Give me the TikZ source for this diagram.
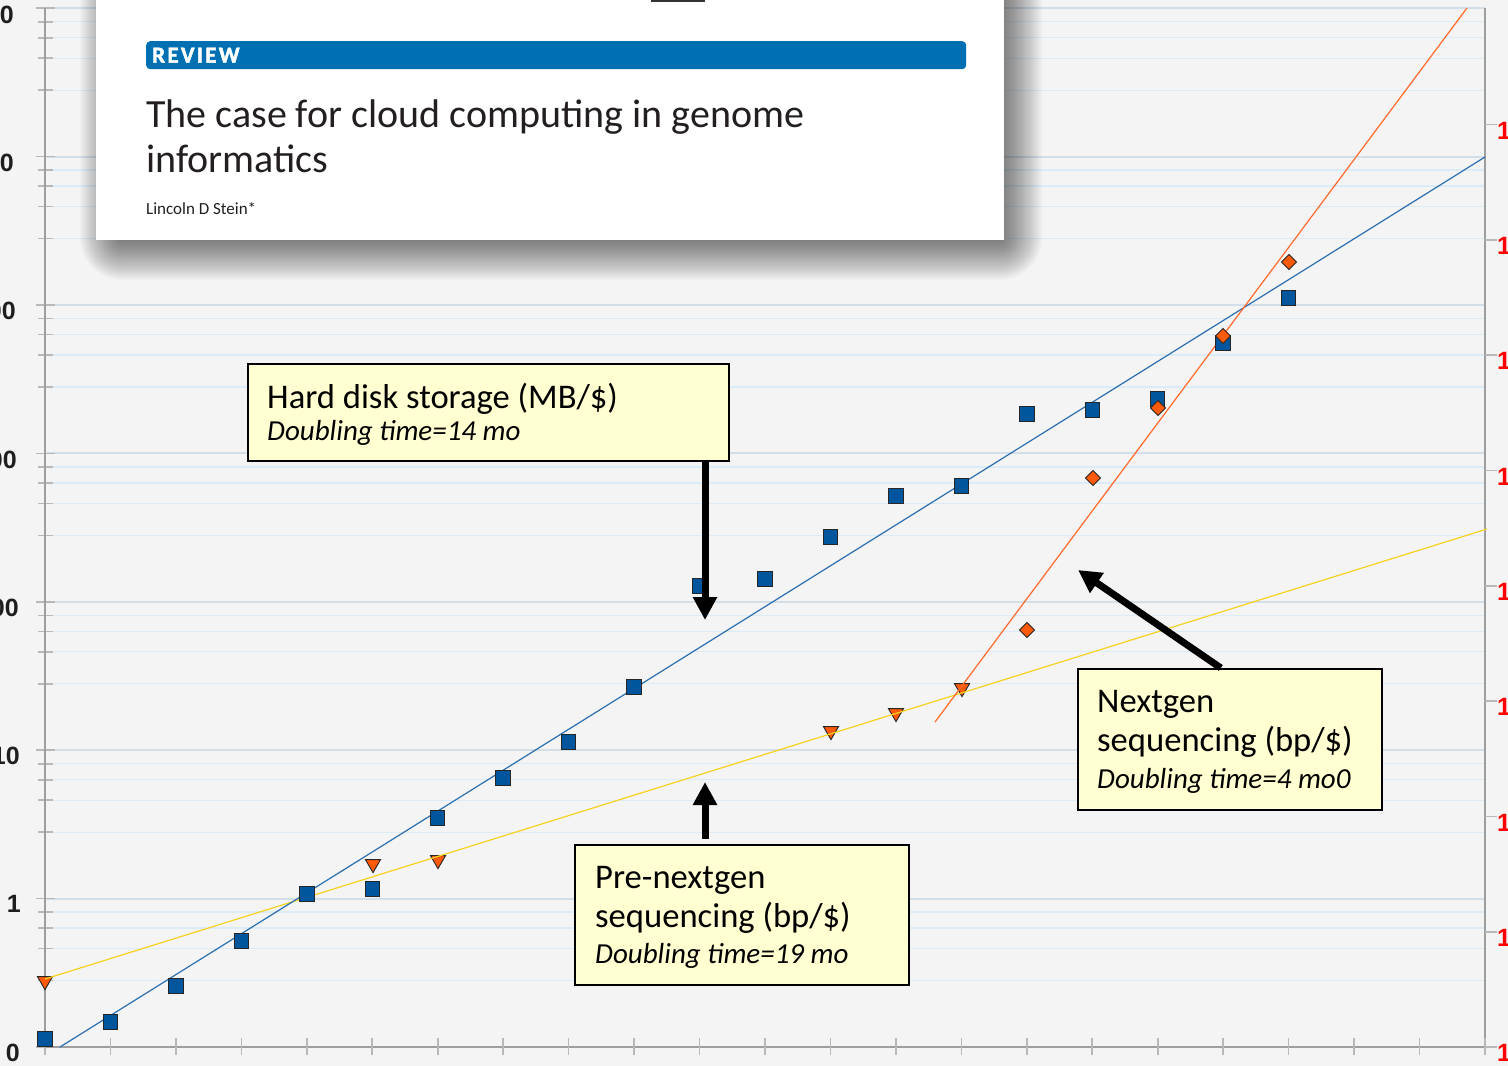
\documentclass[tikz,border=0pt]{standalone}
\usepackage{fontspec}
\setmainfont{Carlito}
\newfontfamily\labelfont{Liberation Sans}
\newfontfamily\reviewfont[LetterSpace=10, BoldFeatures={FakeBold=2}]{Carlito}
\usetikzlibrary{arrows.meta,shapes.geometric,calc}

\definecolor{bgc}{HTML}{F4F4F4}
\definecolor{gridminorc}{HTML}{DAECF8}
\definecolor{gridmajorc}{HTML}{D2DEE8}
\definecolor{axisc}{HTML}{9E9E9E}
\definecolor{tickc}{HTML}{B8B8B8}
\definecolor{labelc}{HTML}{1E1E1E}
\definecolor{diskblue}{HTML}{00569C}
\definecolor{disklinec}{HTML}{2A6FB0}
\definecolor{ngorange}{HTML}{FF5A0A}
\definecolor{nglinec}{HTML}{FF6A2A}
\definecolor{prelinec}{HTML}{F6D21E}
\definecolor{notefill}{HTML}{FFFFD2}
\definecolor{reviewblue}{HTML}{0070B2}
\definecolor{titleink}{HTML}{231F20}
\definecolor{tabc}{HTML}{333333}

\tikzset{
  gridminor/.style={draw=gridminorc, line width=1.3pt},
  gridmajor/.style={draw=gridmajorc, line width=2pt},
  axisline/.style={draw=axisc, line width=2.2pt},
  tickline/.style={draw=tickc, line width=1.6pt},
  leftlab/.style={anchor=east, inner sep=0pt, text=labelc,
    font=\labelfont\bfseries\fontsize{25}{25}\selectfont},
  rightlab/.style={anchor=west, inner sep=0pt, text=red,
    font=\labelfont\bfseries\fontsize{25}{25}\selectfont},
  trend/.style={line width=1.2pt},
  diskmark/.style={rectangle, minimum size=14.5pt, inner sep=0pt,
    fill=diskblue, draw=black!85, line width=1pt},
  premark/.style={regular polygon, regular polygon sides=3,
    shape border rotate=180, minimum size=17.3pt, inner sep=0pt,
    fill=ngorange, draw=black!85, line width=0.9pt},
  ngmark/.style={diamond, minimum width=15.5pt, minimum height=15.5pt,
    inner sep=0pt, fill=ngorange, draw=black!85, line width=0.9pt},
  card/.style={anchor=north west, fill=white, inner sep=0pt,
    minimum width=908pt, minimum height=260pt},
  shadowlayer/.style={fill=black, opacity=0.02},
  reviewbar/.style={anchor=north west, fill=reviewblue, rounded corners=4pt,
    minimum height=28pt, text width=808pt, inner xsep=6pt, inner ysep=0pt,
    align=left, text=white, font=\reviewfont\bfseries\fontsize{23}{23}\selectfont},
  titletext/.style={anchor=base west, inner sep=0pt, text=titleink,
    font=\fontsize{40}{40}\selectfont},
  authortext/.style={anchor=base west, inner sep=0pt, text=titleink,
    font=\fontsize{17}{17}\selectfont},
  notebox/.style={draw=black, line width=2pt, fill=notefill,
    anchor=north west, inner sep=0pt},
  notemain/.style={anchor=base west, inner sep=0pt,
    font=\fontsize{34.6}{34.6}\selectfont},
  noteital/.style={anchor=base west, inner sep=0pt,
    font=\itshape\fontsize{29}{29}\selectfont},
  bigarrow/.style={line width=7pt, draw=black,
    -{Triangle[width=23pt,length=23pt]}},
}

\begin{document}
\begin{tikzpicture}[x=1pt,y=-1pt]
\useasboundingbox (0,0) rectangle (1508,1066);
\fill[bgc] (0,0) rectangle (1508,1066);

% horizontal grid on a log scale: one decade every 148.4 units
\foreach \k in {1,...,7}{
  \pgfmathsetmacro{\yy}{1047-148.4*\k}
  \foreach \d in {13.5,29.5,50,82}{
    \draw[gridminor] (45,\yy+\d) -- (1485,\yy+\d);
    \draw[tickline] (38,\yy+\d) -- (53,\yy+\d);
  }
  \draw[gridmajor] (45,\yy) -- (1485,\yy);
  \draw[tickline] (36,\yy) -- (55,\yy);
}
\draw[tickline] (36,1047) -- (55,1047);

% axes
\draw[axisline] (45,8) -- (45,1047);
\draw[axisline] (1485,8) -- (1485,1047);
\draw[axisline] (45,1047) -- (1485,1047);
\foreach \i in {0,...,22}
  \draw[tickline] ({45+65.4545*\i},1038) -- ({45+65.4545*\i},1055);
\foreach \k in {0,...,8}{
  \draw[tickline] (1485,{1047-115.3*\k}) -- (1497,{1047-115.3*\k});
  \node[rightlab] (rlab\k) at (1497,{1053-115.3*\k}) {1};
}

% left axis labels
\node[leftlab] (llab0) at (20,1053) {0};
\node[leftlab] (llab1) at (21,904) {1};
\node[leftlab] (llab2) at (20,756) {10};
\node[leftlab] (llab3) at (19,608) {00};
\node[leftlab] (llab4) at (17,460) {00};
\node[leftlab] (llab5) at (16,311) {00};
\node[leftlab] (llab6) at (14,163) {0};
\node[leftlab] (llab7) at (14,15) {0};

% trend lines
\coordinate (diskA) at (60,1047);  \coordinate (diskB) at (1485,157);
\coordinate (preA)  at (45,979);   \coordinate (preB)  at (1487,529);
\coordinate (ngA)   at (935,722);  \coordinate (ngB)   at (1467,8);

% pre-nextgen sequencing points
\foreach \xv/\yv [count=\i] in {45/981,373/864,438/860,831/731,896/713,962/688}
  \node[premark] (pre\i) at (\xv,\yv) {};
\draw[trend, prelinec] (preA) -- (preB);
\draw[trend, disklinec] (diskA) -- (diskB);
\draw[trend, nglinec] (ngA) -- (ngB);

% hard disk storage points
\foreach \yv [count=\i from 0] in {1039,1022,986,941,894,889,818,778,742,687,586,579,537,496,486,414,410,399,343,298}
  \node[diskmark] (disk\i) at ({45+65.4545*\i},\yv) {};

% nextgen sequencing points
\foreach \xv/\yv [count=\i] in {1027/630,1093/478,1158/408,1223/336,1289/262}
  \node[ngmark] (ng\i) at (\xv,\yv) {};

% article header card with a soft drop shadow built from stacked layers
\foreach \r in {1,...,30}
  \fill[shadowlayer, rounded corners={1.4*\r pt}]
    ({122-1.4*\r},{-10-1.4*\r}) rectangle ({1000+1.4*\r},{238+1.4*\r});
\node[card] (paper) at (96,-20) {};
\fill[tabc] (651,-5) rectangle (705,2);
\node[reviewbar] (review) at (146,41) {REVIEW};
\node[titletext] (title1) at (146,127) {The case for cloud computing in genome};
\node[titletext] (title2) at (146,172) {informatics};
\node[authortext] (author) at (146,214) {Lincoln D Stein*};

% callout boxes
\node[notebox, minimum width=481pt, minimum height=97pt] (hd) at (247,363) {};
\node[notemain] (hdA) at (267,408) {Hard disk storage (MB/\$)};
\node[noteital] (hdB) at (267,440) {Doubling time=14 mo};

\node[notebox, minimum width=334pt, minimum height=140pt] (pre) at (574,844) {};
\node[notemain] (preA1) at (595,888) {Pre-nextgen};
\node[notemain] (preA2) at (595,927) {sequencing (bp/\$)};
\node[noteital] (preA3) at (595,963) {Doubling time=19 mo};

\node[notebox, minimum width=304pt, minimum height=141pt] (ng) at (1077,668) {};
\node[notemain] (ngT1) at (1097,712) {Nextgen};
\node[notemain] (ngT2) at (1097,751) {sequencing (bp/\$)};
\node[noteital] (ngT3) at (1097,788) {Doubling time=4 mo0};

% callout arrows
\coordinate (hdtip) at (705,620);
\draw[bigarrow] (hd.south -| hdtip) -- (hdtip);
\coordinate (pretip) at (705,782);
\draw[bigarrow, shorten <=5pt] (pre.north -| pretip) -- (pretip);
\coordinate (ngtip) at (1078,570);
\draw[bigarrow] ($(ng.north west)!0.47!(ng.north east)$) -- (ngtip);
\end{tikzpicture}
\end{document}
